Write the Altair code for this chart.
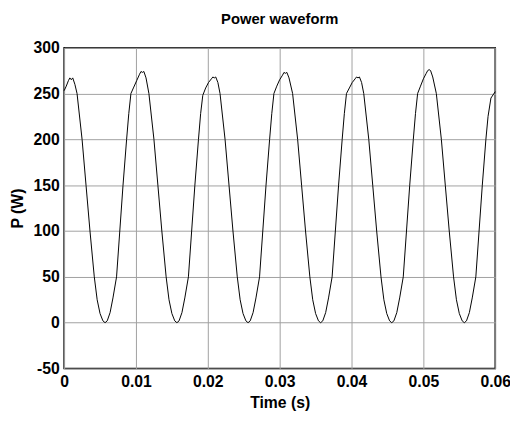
import altair as alt
import pandas as pd

# Cycle-by-cycle readings of the power waveform (time in s, power in W)
t0 = [0.0, 0.0003, 0.0006, 0.0008, 0.0010, 0.0012, 0.0015, 0.0018, 0.0025, 0.00305, 0.0036, 0.0042, 0.0046, 0.0050, 0.0054, 0.0057]
p0 = [253, 258, 264, 267, 265, 267, 260, 250, 200, 150, 100, 50, 25, 10, 2, 0]

t1 = [0.0060, 0.0064, 0.0068, 0.0073, 0.00775, 0.0082, 0.0087, 0.0090, 0.0093, 0.0097, 0.0101, 0.0105, 0.0107, 0.0109, 0.0111, 0.0114, 0.0118, 0.0125, 0.01305, 0.0136, 0.0142, 0.0146, 0.0150, 0.0154, 0.0157]
p1 = [2, 11, 27, 50, 100, 150, 200, 228, 250, 257, 264, 271, 274, 273, 274, 267, 250, 200, 150, 100, 50, 25, 10, 2, 0]

t2 = [0.0160, 0.0164, 0.0168, 0.0173, 0.01775, 0.0182, 0.0187, 0.0190, 0.0193, 0.0197, 0.0201, 0.0205, 0.0207, 0.0209, 0.0211, 0.0214, 0.0217, 0.0224, 0.02295, 0.0235, 0.0241, 0.0245, 0.0249, 0.0253, 0.0256]
p2 = [2, 11, 27, 50, 100, 150, 200, 228, 248, 256, 262, 266, 268, 267, 268, 262, 250, 200, 150, 100, 50, 25, 10, 2, 0]

t3 = [0.0259, 0.0263, 0.0267, 0.0272, 0.02765, 0.0281, 0.0286, 0.0289, 0.0292, 0.0296, 0.0300, 0.0304, 0.0306, 0.0308, 0.0310, 0.0313, 0.0318, 0.0325, 0.03305, 0.0336, 0.0342, 0.0346, 0.0350, 0.0354, 0.0357]
p3 = [2, 11, 27, 50, 100, 150, 200, 228, 250, 258, 265, 270, 273, 272, 273, 267, 250, 200, 150, 100, 50, 25, 10, 2, 0]

t4 = [0.0360, 0.0364, 0.0368, 0.0373, 0.03775, 0.0382, 0.0387, 0.0390, 0.0393, 0.0397, 0.0401, 0.0405, 0.0407, 0.0409, 0.0411, 0.0414, 0.0417, 0.0424, 0.04295, 0.0435, 0.0441, 0.0445, 0.0449, 0.0453, 0.0456]
p4 = [2, 11, 27, 50, 100, 150, 200, 228, 250, 256, 262, 266, 268, 267, 268, 262, 250, 200, 150, 100, 50, 25, 10, 2, 0]

t5 = [0.0459, 0.0463, 0.0467, 0.0472, 0.04765, 0.0481, 0.0486, 0.0489, 0.0492, 0.0496, 0.0500, 0.0504, 0.0506, 0.0508, 0.0510, 0.0513, 0.0518, 0.0525, 0.05305, 0.0536, 0.0542, 0.0546, 0.0550, 0.0554, 0.0557]
p5 = [2, 11, 27, 50, 100, 150, 200, 228, 250, 258, 266, 272, 275, 276, 275, 268, 250, 200, 150, 100, 50, 25, 10, 2, 0]

t6 = [0.0560, 0.0564, 0.0568, 0.0573, 0.05775, 0.0582, 0.0587, 0.0590, 0.0594, 0.0600]
p6 = [2, 11, 27, 50, 100, 150, 200, 225, 245, 252]

x_ticks = [0, 0.01, 0.02, 0.03, 0.04, 0.05, 0.06]
y_ticks = [-50, 0, 50, 100, 150, 200, 250, 300]

times = t0 + t1 + t2 + t3 + t4 + t5 + t6
power = p0 + p1 + p2 + p3 + p4 + p5 + p6
df = pd.DataFrame({"t": times, "P": power})

FONT = "Liberation Sans, Arial"

chart = alt.Chart(df).mark_line(color="black", strokeWidth=1).encode(
    x=alt.X("t:Q", title="Time (s)",
            scale=alt.Scale(domain=[0, 0.06], nice=False, zero=False),
            axis=alt.Axis(values=x_ticks,
                          labelExpr="datum.value == 0 ? '0' : format(datum.value, '.2f')")),
    y=alt.Y("P:Q", title="P (W)",
            scale=alt.Scale(domain=[-50, 300], nice=False),
            axis=alt.Axis(values=y_ticks, labelExpr="'' + datum.value")),
).properties(
    width=438, height=326,
    title=alt.TitleParams("Power waveform", font=FONT, fontSize=15, fontWeight="bold",
                          color="black", offset=13),
    autosize=alt.AutoSizeParams(type="none"),
    padding={"left": 57, "top": 37, "right": 15, "bottom": 48},
).configure_view(
    stroke="black", strokeWidth=1.5
).configure_axis(
    grid=True, gridColor="#a0a0a0", gridWidth=1,
    ticks=False, domain=False,
    labelFont=FONT, labelFontSize=16, labelFontWeight="bold", labelColor="black",
    titleFont=FONT, titleFontSize=16, titleFontWeight="bold", titleColor="black",
    labelPadding=5,
).configure_axisX(
    titlePadding=6, labelFlush=False
).configure_axisY(
    titlePadding=8, labelFlush=False
)

chart.save("out.html", embed_options={"renderer": "svg", "actions": False})
